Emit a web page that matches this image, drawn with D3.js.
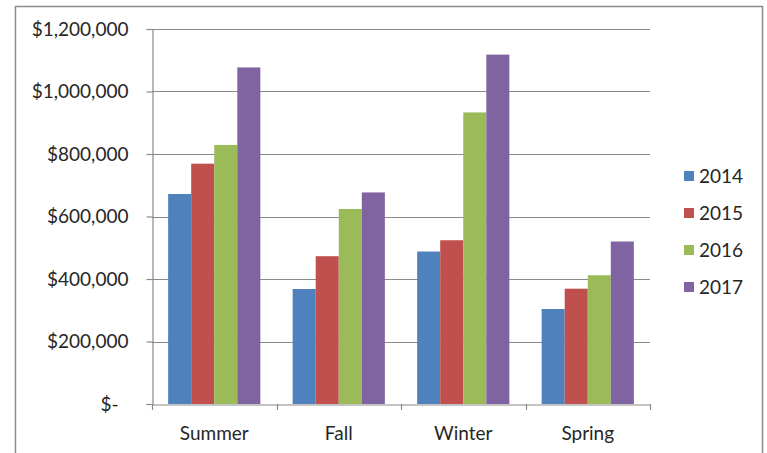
<!DOCTYPE html>
<html>
<head>
<meta charset="utf-8">
<script src="https://cdn.jsdelivr.net/npm/d3@7"></script>
<style>
  html, body { margin: 0; padding: 0; background: #fff; }
  svg { display: block; font-family: Lato, "Open Sans", sans-serif; }
</style>
</head>
<body>
<svg id="chart" width="767" height="453"></svg>
<script>
// Seasonal revenue by year
const seasons = ["Summer", "Fall", "Winter", "Spring"];
const years = ["2014", "2015", "2016", "2017"];
const colors = ["#4F81BD", "#C0504D", "#9BBB59", "#8064A2"];
const values2014 = [672000, 368000, 488000, 304000];
const values2015 = [769000, 473000, 524000, 369000];
const values2016 = [829000, 624000, 933000, 412000];
const values2017 = [1077000, 677000, 1118000, 520000];
const yTicks = [0, 200000, 400000, 600000, 800000, 1000000, 1200000];

const series = [values2014, values2015, values2016, values2017];
const rows = seasons.map((s, i) => ({
  season: s,
  vals: years.map((y, j) => ({ year: y, value: series[j][i], color: colors[j] }))
}));

const svg = d3.select("#chart");
const textColor = "#262626";
const lineColor = "#8a8a8a";
const fontSize = 19;

// outer chart frame
svg.append("rect")
  .attr("x", 15.5).attr("y", 6.5)
  .attr("width", 747).attr("height", 460)
  .attr("fill", "#fff")
  .attr("stroke", "#8c8c8c").attr("stroke-width", 1.5);

const plot = { left: 152, right: 650, top: 29, bottom: 404 };

const x = d3.scaleBand().domain(seasons).range([plot.left, plot.right]).paddingInner(0).paddingOuter(0);
const inner = d3.scaleBand().domain(years).range([0, x.bandwidth()]).paddingInner(0).paddingOuter(0.7);
const y = d3.scaleLinear().domain([0, 1200000]).range([plot.bottom, plot.top]);

const fmt = v => v === 0 ? "$-" : "$" + d3.format(",")(v);

// gridlines
svg.append("g")
  .selectAll("line")
  .data(yTicks.filter(t => t > 0))
  .join("line")
  .attr("x1", plot.left).attr("x2", plot.right)
  .attr("y1", d => Math.round(y(d)) + 0.5).attr("y2", d => Math.round(y(d)) + 0.5)
  .attr("stroke", lineColor).attr("stroke-width", 1.2);

// bars
svg.append("g")
  .selectAll("g")
  .data(rows)
  .join("g")
  .attr("transform", d => `translate(${x(d.season)},0)`)
  .selectAll("rect")
  .data(d => d.vals)
  .join("rect")
  .attr("x", d => inner(d.year))
  .attr("width", inner.bandwidth())
  .attr("y", d => y(d.value))
  .attr("height", d => y(0) - y(d.value))
  .attr("fill", d => d.color);

// y axis (accounting style: the zero label keeps a trailing gap)
const yAxis = svg.append("g")
  .attr("transform", `translate(${plot.left + 0.5},0)`)
  .call(d3.axisLeft(y).tickValues(yTicks).tickFormat(fmt).tickSize(6).tickPadding(18));
yAxis.select(".domain").attr("stroke", lineColor).attr("stroke-width", 1.2);
yAxis.selectAll(".tick line").attr("stroke", lineColor).attr("stroke-width", 1.2);
yAxis.selectAll(".tick text")
  .attr("font-size", fontSize)
  .attr("fill", textColor)
  .attr("font-family", "Lato, sans-serif")
  .attr("dx", d => d === 0 ? -10 : 0);

// x axis
const xAxis = svg.append("g")
  .attr("transform", `translate(0,${plot.bottom + 0.5})`)
  .call(d3.axisBottom(x).tickSize(0).tickPadding(22));
xAxis.select(".domain").attr("stroke", lineColor).attr("stroke-width", 1.2);
xAxis.selectAll(".tick text")
  .attr("font-size", fontSize)
  .attr("fill", textColor)
  .attr("font-family", "Lato, sans-serif");

// category boundary ticks
const bounds = seasons.map(s => x(s)).concat([plot.right]);
svg.append("g")
  .selectAll("line")
  .data(bounds)
  .join("line")
  .attr("x1", d => Math.round(d) + 0.5).attr("x2", d => Math.round(d) + 0.5)
  .attr("y1", plot.bottom).attr("y2", plot.bottom + 6)
  .attr("stroke", lineColor).attr("stroke-width", 1.2);

// legend
const legend = svg.append("g")
  .selectAll("g")
  .data(years)
  .join("g")
  .attr("transform", (d, i) => `translate(684,${176 + i * 37})`);
legend.append("rect")
  .attr("x", 0).attr("y", -5).attr("width", 10).attr("height", 10)
  .attr("fill", (d, i) => colors[i]);
legend.append("text")
  .attr("x", 15).attr("y", 0).attr("dy", "0.35em")
  .attr("font-size", fontSize)
  .attr("fill", textColor)
  .text(d => d);
</script>
</body>
</html>
